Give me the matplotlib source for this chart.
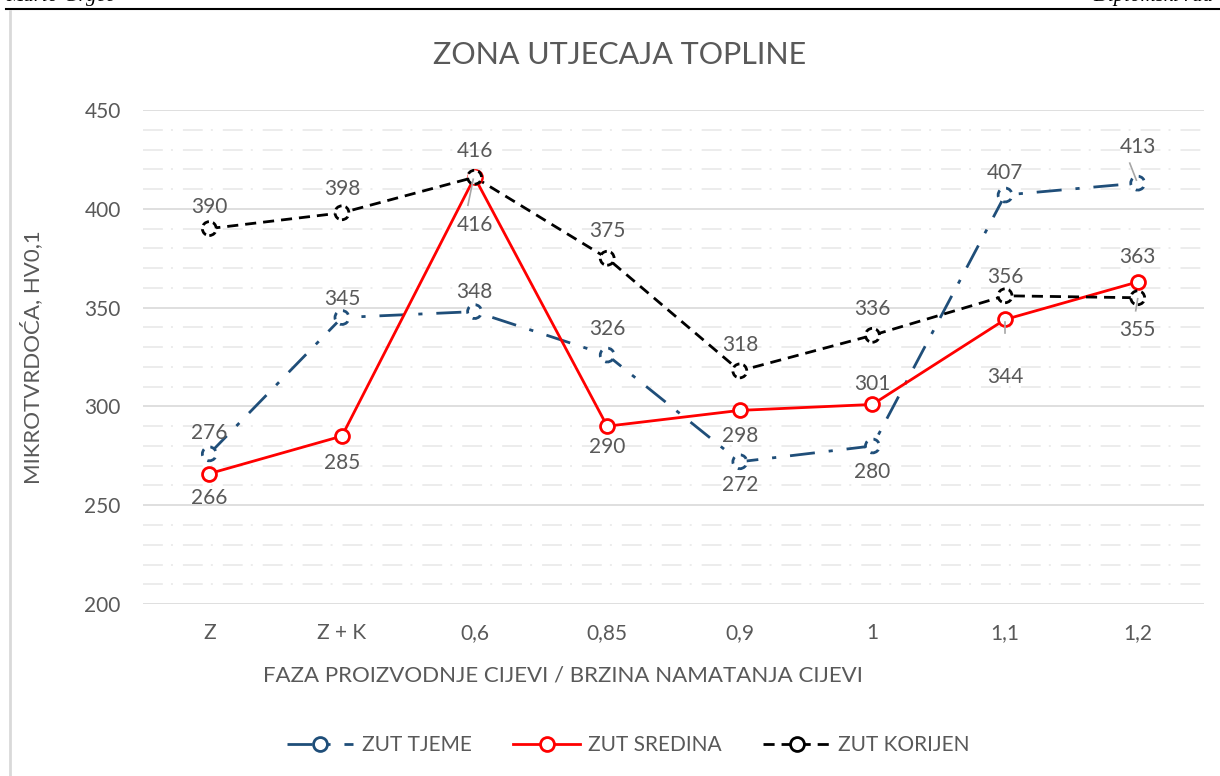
import matplotlib.pyplot as plt
from matplotlib.lines import Line2D

plt.rcParams["font.family"] = ["Lato", "DejaVu Sans"]

# podaci
kategorije = ["Z", "Z + K", "0,6", "0,85", "0,9", "1", "1,1", "1,2"]
zut_tjeme = [276, 345, 348, 326, 272, 280, 407, 413]
zut_sredina = [266, 285, 416, 290, 298, 301, 344, 363]
zut_korijen = [390, 398, 416, 375, 318, 336, 356, 355]

# pomak oznake vrijednosti od točke, u pikselima (+ iznad, - ispod)
pomak_tjeme = [21, 19, 20, 26, -23, -26, 22, 36]
pomak_sredina = [-24, -27, -48, -21, -26, 20, -58, 25]
pomak_korijen = [22, 24, 26, 27, 26, 26, 19, -32]

TXT = "#595959"
GRID = "#d9d9d9"
C_PLAVA = "#1F4E79"
C_CRVENA = "#FF0000"
C_CRNA = "#000000"
LS_PLAVA = (0, (9, 5, 1.5, 5))
LS_CRNA = (0, (4, 2.5))

fig = plt.figure(figsize=(12.2, 7.76), dpi=100)
ax = fig.add_axes([0.1172, 0.2216, 0.8697, 0.6366])
PX = 250 / 494  # jedinica osi po pikselu

x = list(range(len(kategorije)))

# mreža: glavne linije svakih 50, pomoćne crta-točka svakih 10
for v in range(200, 451, 10):
    if v % 50 == 0:
        ax.axhline(v, color=GRID, lw=1.2, zorder=0)
    else:
        ax.axhline(v, color="#ebebeb", lw=1.3, ls=(0, (11, 4.5, 1.1, 5.5)),
                   zorder=0)


def serija(vals, boja, ls, mls):
    ax.plot(x, vals, color=boja, ls=ls, lw=2.0, zorder=3)
    ax.scatter(x, vals, s=100, facecolor="white", edgecolor=boja,
               linewidths=2.0, linestyles=mls, zorder=4)


serija(zut_tjeme, C_PLAVA, LS_PLAVA, (0, (2.5, 2.5)))
serija(zut_sredina, C_CRVENA, "-", "-")
serija(zut_korijen, C_CRNA, LS_CRNA, (0, (2.5, 1.5)))


def oznake(vals, pomaci):
    for i, (v, d) in enumerate(zip(vals, pomaci)):
        ax.text(i, v + d * PX, str(v), ha="center", va="center",
                fontsize=15, color=TXT, zorder=6)


oznake(zut_tjeme, pomak_tjeme)
oznake(zut_sredina, pomak_sredina)
oznake(zut_korijen, pomak_korijen)

# linije vodilice do odmaknutih oznaka (dx u kategorijama, dy u pikselima)
vodilice = [(7, zut_tjeme[7], -0.06, 20, -0.01, 3),
            (2, zut_sredina[2], -0.05, -28, -0.01, -2),
            (6, zut_sredina[6], 0.0, -14, 0.0, -3),
            (7, zut_korijen[7], -0.015, -13, 0.0, -1)]
for i, v, dx0, dy0, dx1, dy1 in vodilice:
    ax.plot([i + dx0, i + dx1], [v + dy0 * PX, v + dy1 * PX],
            color="#a6a6a6", lw=1.2, zorder=5)

ax.set_xlim(-0.5, len(kategorije) - 0.5)
ax.set_ylim(200, 450)
ax.set_xticks(x)
ax.set_xticklabels(kategorije)
ax.set_yticks(range(200, 451, 50))
ax.tick_params(length=0, labelsize=15, labelcolor=TXT, pad=14)
ax.tick_params(axis="y", pad=16)
for s in ax.spines.values():
    s.set_visible(False)

fig.text(0.5082, 0.929, "ZONA UTJECAJA TOPLINE", ha="center", va="center",
         fontsize=22, color=TXT)
fig.text(0.0262, 0.54, "MIKROTVRDOĆA, HV0,1", rotation=90, ha="center",
         va="center", fontsize=16, color=TXT)
fig.text(0.4615, 0.13, "FAZA PROIZVODNJE CIJEVI / BRZINA NAMATANJA CIJEVI",
         ha="center", va="center", fontsize=16, color=TXT)

h = [Line2D([], [], color=C_PLAVA, ls=LS_PLAVA, lw=2, marker="o",
            mfc="white", mec=C_PLAVA, ms=10, mew=2),
     Line2D([], [], color=C_CRVENA, ls="-", lw=2, marker="o",
            mfc="white", mec=C_CRVENA, ms=10, mew=2),
     Line2D([], [], color=C_CRNA, ls=LS_CRNA, lw=2, marker="o",
            mfc="white", mec=C_CRNA, ms=10, mew=2)]
fig.legend(h, ["ZUT TJEME", "ZUT SREDINA", "ZUT KORIJEN"], loc="center",
           bbox_to_anchor=(0.515, 0.04), ncol=3, frameon=False, fontsize=15,
           labelcolor=TXT, handlelength=3.2, handletextpad=0.4,
           columnspacing=2.0)

# zaglavlje stranice i okvir grafikona
fig.text(0.005, 1.004, "Mario Grgec", ha="left", va="center",
         fontsize=15, style="italic", family="Liberation Serif")
fig.text(0.995, 1.004, "Diplomski rad", ha="right", va="center",
         fontsize=15, style="italic", family="Liberation Serif")
fig.add_artist(Line2D([0.005, 1.0], [0.9885, 0.9885], color="black", lw=1.5))
fig.add_artist(Line2D([0.0085, 0.0085], [0.0, 0.986], color="#d9d9d9", lw=2))

fig.savefig("out.png", dpi=100)
